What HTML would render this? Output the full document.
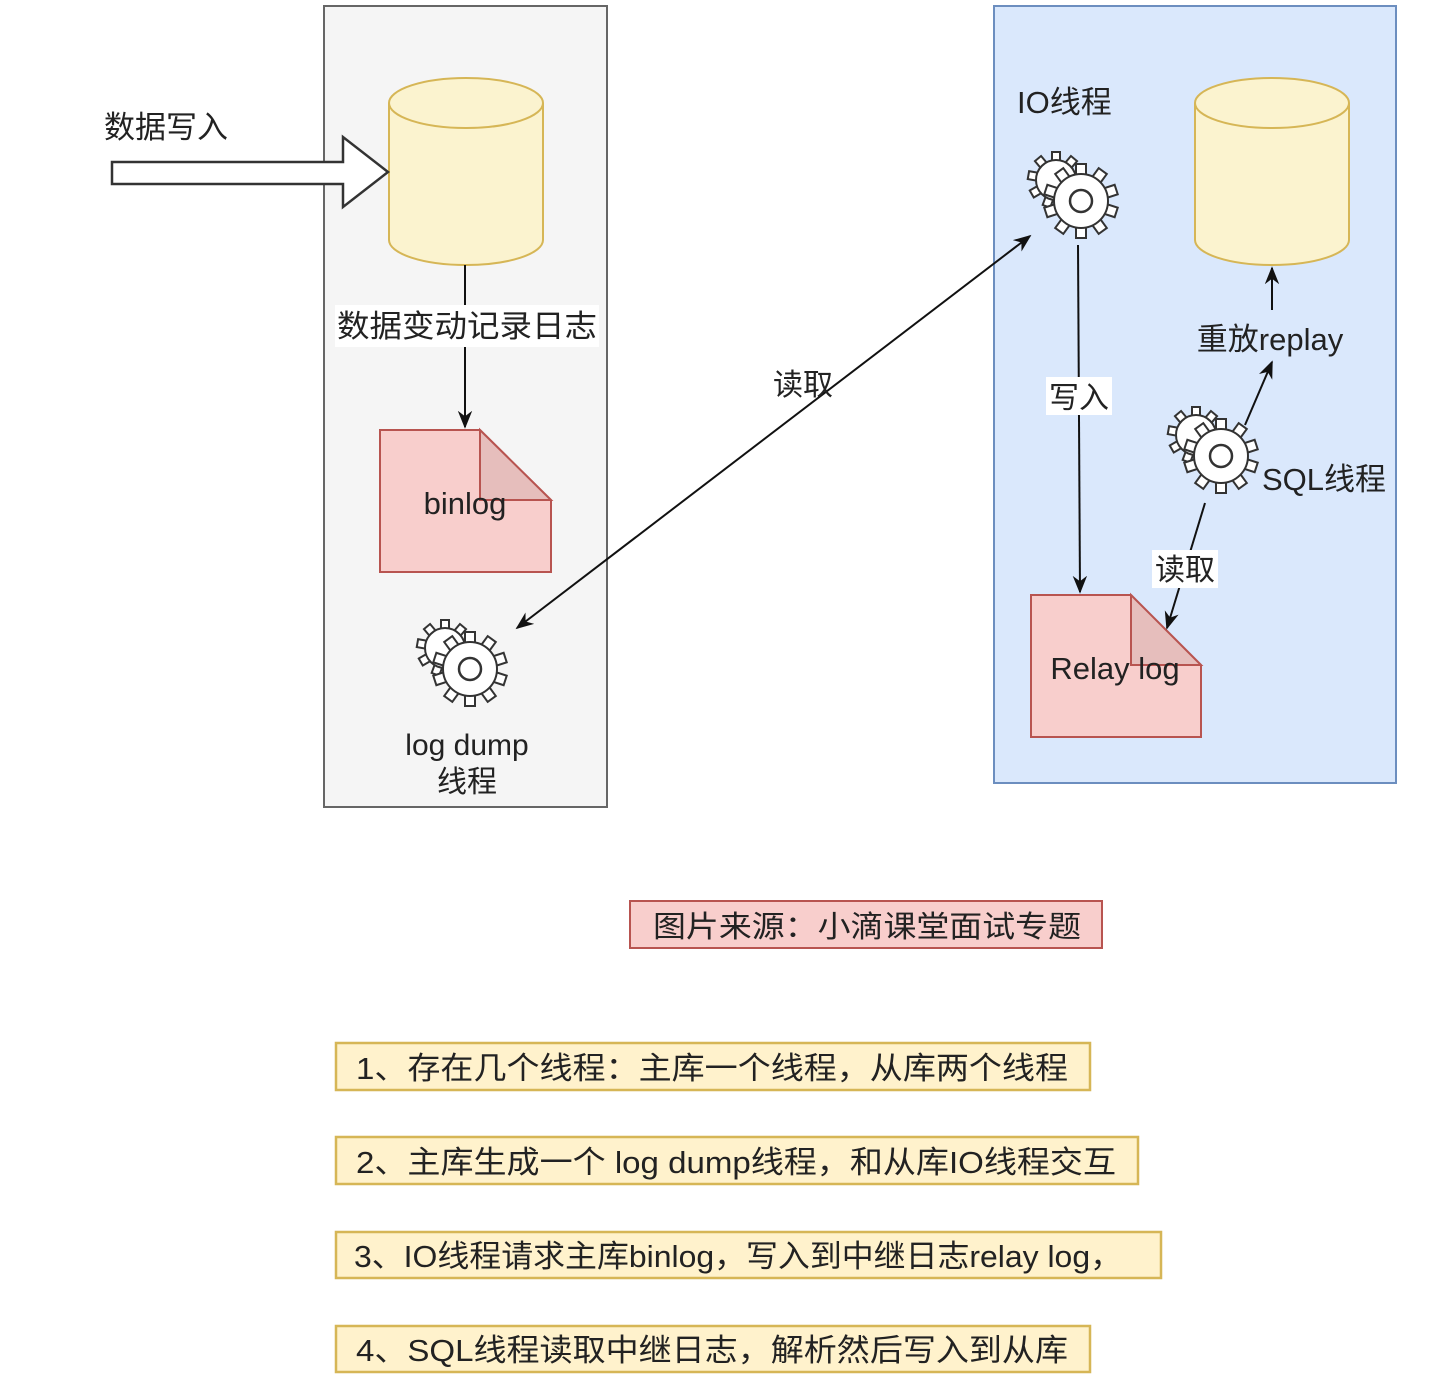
<!DOCTYPE html>
<html><head><meta charset="utf-8"><style>
html,body{margin:0;padding:0;background:#fff;}
svg{display:block;}
text{font-family:"Liberation Sans","Noto Sans CJK SC",sans-serif;fill:#222;}
</style></head><body>
<svg width="1452" height="1388" viewBox="0 0 1452 1388" xmlns="http://www.w3.org/2000/svg">
<defs>
<marker id="ah2" viewBox="0 0 10 10" refX="9" refY="5" markerWidth="18" markerHeight="18" orient="auto-start-reverse" markerUnits="userSpaceOnUse">
<path d="M0,1 L10,5 L0,9 L3,5 z" fill="#111"/></marker>
<rect id="tB" x="-5" y="-37" width="10" height="14" fill="#fff" stroke="#333" stroke-width="2"/>
<rect id="tS" x="-4" y="-28" width="8" height="11" fill="#fff" stroke="#333" stroke-width="2"/>
<g id="gearS">
<use href="#tS"/><use href="#tS" transform="rotate(40)"/><use href="#tS" transform="rotate(80)"/><use href="#tS" transform="rotate(120)"/><use href="#tS" transform="rotate(160)"/><use href="#tS" transform="rotate(200)"/><use href="#tS" transform="rotate(240)"/><use href="#tS" transform="rotate(280)"/><use href="#tS" transform="rotate(320)"/>
<circle r="20" fill="#fff" stroke="#333" stroke-width="2"/>
</g>
<g id="gearB">
<use href="#tB"/><use href="#tB" transform="rotate(36)"/><use href="#tB" transform="rotate(72)"/><use href="#tB" transform="rotate(108)"/><use href="#tB" transform="rotate(144)"/><use href="#tB" transform="rotate(180)"/><use href="#tB" transform="rotate(216)"/><use href="#tB" transform="rotate(252)"/><use href="#tB" transform="rotate(288)"/><use href="#tB" transform="rotate(324)"/>
<circle r="27" fill="#fff" stroke="#333" stroke-width="2"/>
<circle r="11" fill="#fff" stroke="#333" stroke-width="2.5"/>
</g>
<g id="gear">
<use href="#gearS" x="-18" y="-16"/>
<use href="#gearB" x="7" y="5"/>
</g>
</defs>

<rect x="324" y="6" width="283" height="801" fill="#f5f5f5" stroke="#666" stroke-width="2"/>
<rect x="994" y="6" width="402" height="777" fill="#dae8fc" stroke="#6c8ebf" stroke-width="2"/>

<path d="M389,103 L389,240 A77,25 0 0 0 543,240 L543,103" fill="#fbf3cf" stroke="#d6b656" stroke-width="2"/>
<ellipse cx="466" cy="103" rx="77" ry="25" fill="#fbf3cf" stroke="#d6b656" stroke-width="2"/>

<path d="M1195,103 L1195,240 A77,25 0 0 0 1349,240 L1349,103" fill="#fbf3cf" stroke="#d6b656" stroke-width="2"/>
<ellipse cx="1272" cy="103" rx="77" ry="25" fill="#fbf3cf" stroke="#d6b656" stroke-width="2"/>

<path d="M112,162 L343,162 L343,137 L388,172 L343,207 L343,184 L112,184 Z" fill="#fff" stroke="#333" stroke-width="2.5"/>
<text x="166" y="138" font-size="31" text-anchor="middle">数据写入</text>

<line x1="465" y1="265" x2="465" y2="427" stroke="#111" stroke-width="2" marker-end="url(#ah2)"/>
<rect x="335" y="305" width="264" height="42" fill="#fff"/>
<text x="467" y="337" font-size="31" text-anchor="middle" textLength="260" lengthAdjust="spacingAndGlyphs">数据变动记录日志</text>

<path d="M380,430 L480,430 L551,500 L551,572 L380,572 Z" fill="#f8cecc" stroke="#b85450" stroke-width="2"/>
<path d="M480,430 L480,500 L551,500 Z" fill="#e6bebc" stroke="#b85450" stroke-width="2"/>
<text x="465" y="514" font-size="31" text-anchor="middle">binlog</text>

<use href="#gear" x="463" y="664"/>
<text x="467" y="755" font-size="30" text-anchor="middle">log dump</text>
<text x="467" y="792" font-size="30" text-anchor="middle">线程</text>

<line x1="517" y1="628" x2="1030" y2="236" stroke="#111" stroke-width="2" marker-start="url(#ah2)" marker-end="url(#ah2)"/>
<text x="803" y="395" font-size="30" text-anchor="middle">读取</text>

<text x="1017" y="113" font-size="31">IO线程</text>
<use href="#gear" x="1074" y="196"/>
<line x1="1078" y1="245" x2="1080" y2="592" stroke="#111" stroke-width="2" marker-end="url(#ah2)"/>
<rect x="1046" y="377" width="66" height="38" fill="#fff"/>
<text x="1079" y="408" font-size="30" text-anchor="middle">写入</text>

<path d="M1031,595 L1131,595 L1201,665 L1201,737 L1031,737 Z" fill="#f8cecc" stroke="#b85450" stroke-width="2"/>
<path d="M1131,595 L1131,665 L1201,665 Z" fill="#e6bebc" stroke="#b85450" stroke-width="2"/>
<text x="1115" y="679" font-size="31" text-anchor="middle">Relay log</text>

<line x1="1245" y1="425" x2="1272" y2="362" stroke="#111" stroke-width="2" marker-end="url(#ah2)"/>
<use href="#gear" x="1214" y="451"/>
<text x="1262" y="490" font-size="31">SQL线程</text>
<text x="1270" y="350" font-size="31" text-anchor="middle">重放replay</text>
<line x1="1272" y1="310" x2="1272" y2="268" stroke="#111" stroke-width="2" marker-end="url(#ah2)"/>
<line x1="1205" y1="503" x2="1167" y2="628" stroke="#111" stroke-width="2" marker-end="url(#ah2)"/>
<rect x="1152" y="550" width="66" height="38" fill="#fff"/>
<text x="1185" y="580" font-size="30" text-anchor="middle">读取</text>

<rect x="630" y="901" width="472" height="47" fill="#f8cecc" stroke="#b85450" stroke-width="2"/>
<text x="653" y="937" font-size="30" textLength="428" lengthAdjust="spacingAndGlyphs">图片来源：小滴课堂面试专题</text>

<rect x="336" y="1043" width="754" height="47" fill="#fff2cc" stroke="#d6b656" stroke-width="2.5"/>
<text x="356" y="1079" font-size="31" textLength="712" lengthAdjust="spacingAndGlyphs">1、存在几个线程：主库一个线程，从库两个线程</text>
<rect x="336" y="1137" width="802" height="47" fill="#fff2cc" stroke="#d6b656" stroke-width="2.5"/>
<text x="356" y="1173" font-size="31" textLength="760" lengthAdjust="spacingAndGlyphs">2、主库生成一个 log dump线程，和从库IO线程交互</text>
<rect x="336" y="1232" width="825" height="46" fill="#fff2cc" stroke="#d6b656" stroke-width="2.5"/>
<text x="354" y="1267" font-size="31" textLength="768" lengthAdjust="spacingAndGlyphs">3、IO线程请求主库binlog，写入到中继日志relay log，</text>
<rect x="336" y="1326" width="754" height="46" fill="#fff2cc" stroke="#d6b656" stroke-width="2.5"/>
<text x="356" y="1361" font-size="31" textLength="712" lengthAdjust="spacingAndGlyphs">4、SQL线程读取中继日志，解析然后写入到从库</text>
</svg>
</body></html>
